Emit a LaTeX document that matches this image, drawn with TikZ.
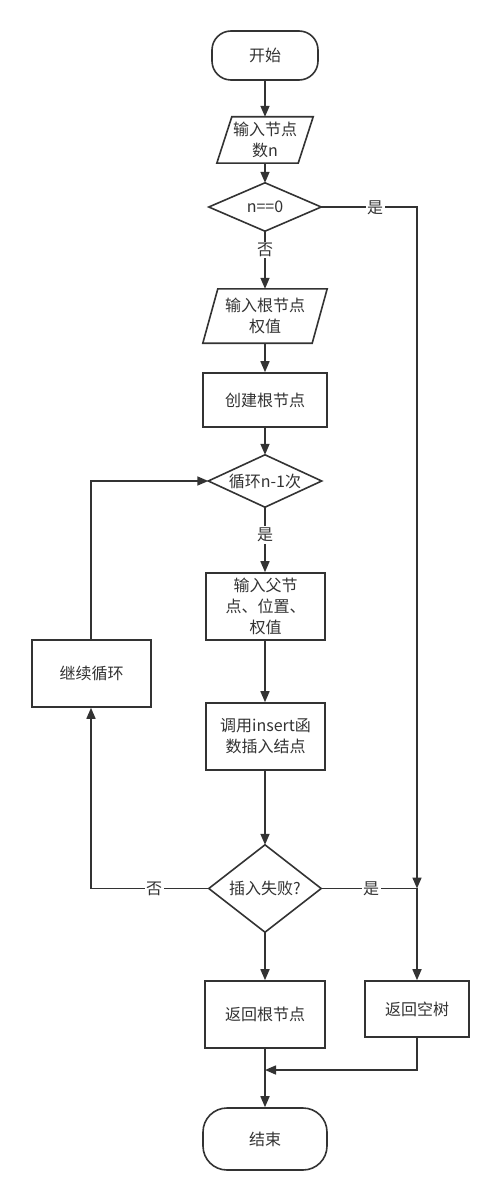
\documentclass[tikz,border=0pt]{standalone}
\usepackage{fontspec}
\setmainfont{Noto Sans CJK SC}
\usetikzlibrary{arrows.meta}
\definecolor{ink}{HTML}{333333}
\tikzset{
  base/.style={inner sep=0pt, align=center, text=ink, font=\fontsize{16pt}{21pt}\selectfont},
  term/.style={base, draw=ink, line width=1.6pt, rounded corners=19pt},
  procbox/.style={base, draw=ink, line width=1.6pt},
  shapeholder/.style={base},
  outl/.style={draw=ink, line width=1.6pt, line join=miter},
  conn/.style={draw=ink, line width=1.6pt, -{Triangle[length=11pt,width=9pt]}},
  plain/.style={draw=ink, line width=1.6pt},
  lbl/.style={base, fill=white, inner sep=1.5pt}
}
\begin{document}
\begin{tikzpicture}[x=1pt,y=-1pt]
\useasboundingbox (0,0) rectangle (500,1201);
\fill[white] (0,0) rectangle (500,1201);

% nodes
\node[term, minimum width=106pt, minimum height=49pt] (start) at (265,55.5) {开始};
\node[shapeholder, minimum width=96pt, minimum height=46pt] (p1) at (265,140) {输入节点\\数n};
\draw[outl] ([xshift=15pt]p1.north west) -- (p1.north east) -- ([xshift=-15pt]p1.south east) -- (p1.south west) -- cycle;
\node[shapeholder, minimum width=112pt, minimum height=48pt] (d1) at (265,207) {n==0};
\draw[outl] (d1.north) -- (d1.east) -- (d1.south) -- (d1.west) -- cycle;
\node[shapeholder, minimum width=124pt, minimum height=54pt] (p2) at (265,316) {输入根节点\\权值};
\draw[outl] ([xshift=15pt]p2.north west) -- (p2.north east) -- ([xshift=-15pt]p2.south east) -- (p2.south west) -- cycle;
\node[procbox, minimum width=124pt, minimum height=54pt] (b1) at (265,400) {创建根节点};
\node[shapeholder, minimum width=113pt, minimum height=52pt] (d2) at (265,481) {循环n-1次};
\draw[outl] (d2.north) -- (d2.east) -- (d2.south) -- (d2.west) -- cycle;
\node[procbox, minimum width=119pt, minimum height=67pt] (b2) at (265.5,606.5) {输入父节\\点、位置、\\权值};
\node[procbox, minimum width=119pt, minimum height=67pt] (cont) at (91.5,673.5) {继续循环};
\node[procbox, minimum width=119pt, minimum height=67pt] (b3) at (265.5,736.5) {调用insert函\\数插入结点};
\node[shapeholder, minimum width=112pt, minimum height=87pt] (d3) at (265,888.5) {插入失败?};
\draw[outl] (d3.north) -- (d3.east) -- (d3.south) -- (d3.west) -- cycle;
\node[procbox, minimum width=120pt, minimum height=67pt] (rr) at (265,1014.5) {返回根节点};
\node[procbox, minimum width=104pt, minimum height=56pt] (re) at (417,1009) {返回空树};
\node[term, minimum width=124pt, minimum height=62pt, rounded corners=24pt] (fin) at (265,1139) {结束};

\coordinate (J) at (417,888.5);
\coordinate (M) at (265,1070);

% connectors
\draw[conn] (start.south) -- (p1.north);
\draw[conn] (p1.south) -- (d1.north);
\draw[conn] (d1.south) -- (p2.north);
\node[lbl] (no1) at (265,250) {否};
\draw[conn] (d1.east) -- (417,207) -- (J);
\node[lbl] (yes1) at (375,208) {是};
\draw[conn] (p2.south) -- (b1.north);
\draw[conn] (b1.south) -- (d2.north);
\draw[conn] (d2.south) -- (b2.north -| d2.south);
\node[lbl] (yes2) at (265,535) {是};
\draw[conn] (b2.south -| d2.south) -- (b3.north -| d2.south);
\draw[conn] (b3.south -| d3.north) -- (d3.north);
\draw[conn] (d3.west) -- (91,888.5) -- (cont.south -| 91,0);
\node[lbl] (no2) at (154,888.5) {否};
\draw[conn] (cont.north -| 91,0) -- (91,481) -- (d2.west);
\draw[conn] (d3.east) -- (J) -- (re.north);
\node[lbl] (yes3) at (371,888.5) {是};
\draw[conn] (d3.south) -- (rr.north);
\draw[conn] (rr.south) -- (fin.north);
\draw[conn] (re.south) -- (417,1070) -- (M);
\end{tikzpicture}
\end{document}
